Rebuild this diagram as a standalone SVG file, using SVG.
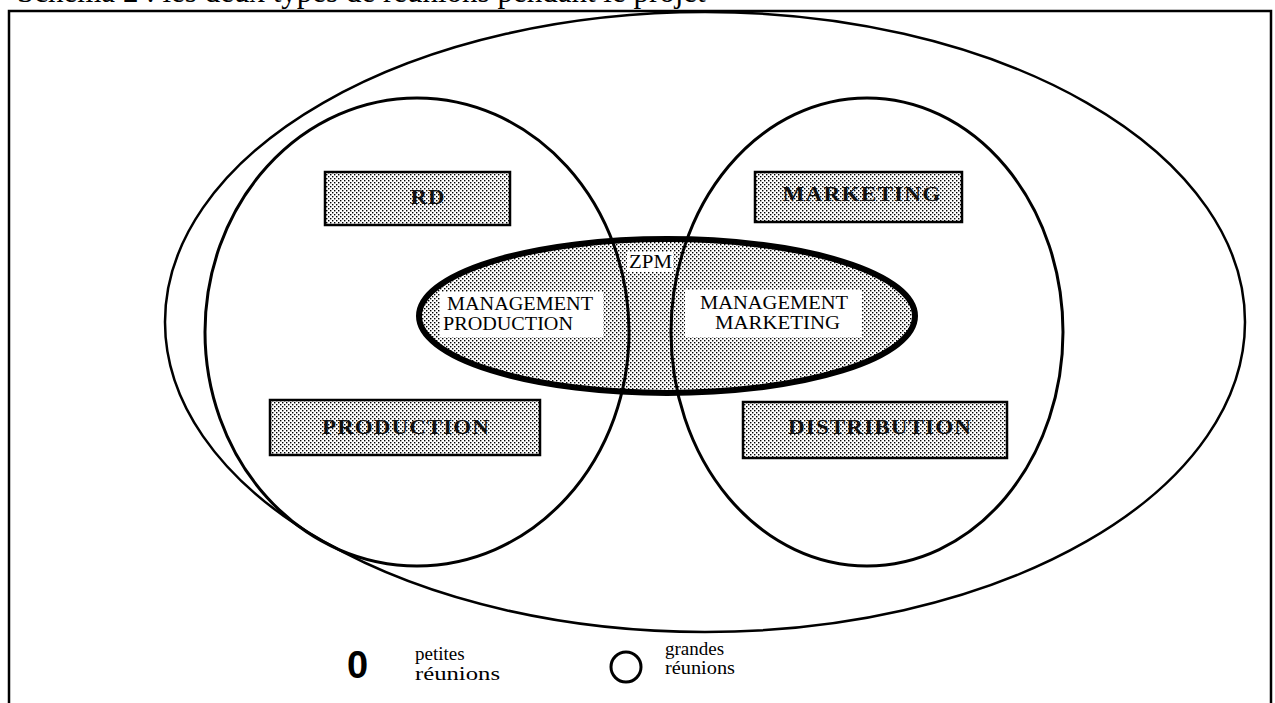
<svg xmlns="http://www.w3.org/2000/svg" width="1275" height="703" viewBox="0 0 1275 703">
<style>
.line{fill:none;stroke:#000}
.box{fill:url(#stip);stroke:#000;stroke-width:2.5}
.lbl{font-family:"Liberation Serif",serif;font-weight:bold;font-size:20px;fill:#111;text-anchor:middle;letter-spacing:1px}
.mg{font-family:"Liberation Serif",serif;font-size:19px;fill:#000}
.leg{font-family:"Liberation Serif",serif;font-size:19px;fill:#000}
</style>
<defs>
<pattern id="stip" width="4" height="4" patternUnits="userSpaceOnUse">
<rect width="4" height="4" fill="#fff"/>
<rect x="0" y="0" width="1.4" height="1.4" fill="#000"/>
<rect x="2" y="2" width="1.4" height="1.4" fill="#000"/>
</pattern>
</defs>
<rect width="1275" height="703" fill="#fff"/>
<text x="17" y="2" font-family="Liberation Serif, serif" font-size="31">Schéma 2 : les deux types de réunions pendant le projet</text>
<g id="frame">
<path class="line" d="M9,703 V11 H1271 V703" stroke-width="2.5"/>
</g>
<g id="outer">
<ellipse class="line" cx="705" cy="322" rx="540" ry="310" stroke-width="2.5"/>
</g>
<g id="management">
<ellipse cx="667" cy="316" rx="248" ry="77" fill="url(#stip)"/>
</g>
<g id="circle-left">
<ellipse class="line" cx="417" cy="332" rx="212" ry="234" stroke-width="3"/>
</g>
<g id="circle-right">
<ellipse class="line" cx="867" cy="332" rx="196" ry="234" stroke-width="3"/>
</g>
<g id="management-outline">
<ellipse class="line" cx="667" cy="316" rx="248" ry="77" stroke-width="6"/>
</g>
<g id="mgmt-prod">
<rect x="440" y="292" width="163" height="45" fill="#fff"/>
<text class="mg" x="447" y="310" textLength="146" lengthAdjust="spacingAndGlyphs">MANAGEMENT</text>
<text class="mg" x="443" y="330" textLength="130" lengthAdjust="spacingAndGlyphs">PRODUCTION</text>
</g>
<g id="mgmt-mkt">
<rect x="685" y="290" width="177" height="47" fill="#fff"/>
<text class="mg" x="700" y="309" textLength="148" lengthAdjust="spacingAndGlyphs">MANAGEMENT</text>
<text class="mg" x="715" y="329" textLength="125" lengthAdjust="spacingAndGlyphs">MARKETING</text>
</g>
<g id="zpm">
<rect x="627" y="252" width="46" height="20" fill="#fff"/>
<text class="mg" x="629" y="268" textLength="43" lengthAdjust="spacingAndGlyphs">ZPM</text>
</g>
<g id="rd">
<rect class="box" x="325" y="172" width="185" height="53"/>
<text class="lbl" x="428" y="204" textLength="35" lengthAdjust="spacingAndGlyphs">RD</text>
</g>
<g id="marketing">
<rect class="box" x="755" y="172" width="207" height="50"/>
<text class="lbl" x="862" y="201" textLength="159" lengthAdjust="spacingAndGlyphs">MARKETING</text>
</g>
<g id="production">
<rect class="box" x="270" y="400" width="270" height="55"/>
<text class="lbl" x="406" y="434" textLength="168" lengthAdjust="spacingAndGlyphs">PRODUCTION</text>
</g>
<g id="distribution">
<rect class="box" x="743" y="402" width="264" height="56"/>
<text class="lbl" x="880" y="434" textLength="184" lengthAdjust="spacingAndGlyphs">DISTRIBUTION</text>
</g>
<g id="legend">
<text x="347" y="678" font-family="Liberation Sans, sans-serif" font-weight="bold" font-size="38">0</text>
<text class="leg" x="415" y="660">petites</text>
<text class="leg" x="415" y="680" textLength="85" lengthAdjust="spacingAndGlyphs">réunions</text>
<ellipse class="line" cx="626" cy="667" rx="15" ry="15" stroke-width="3"/>
<text class="leg" x="665" y="655" font-size="17">grandes</text>
<text class="leg" x="665" y="674" font-size="17" textLength="70" lengthAdjust="spacingAndGlyphs">réunions</text>
</g>
</svg>
